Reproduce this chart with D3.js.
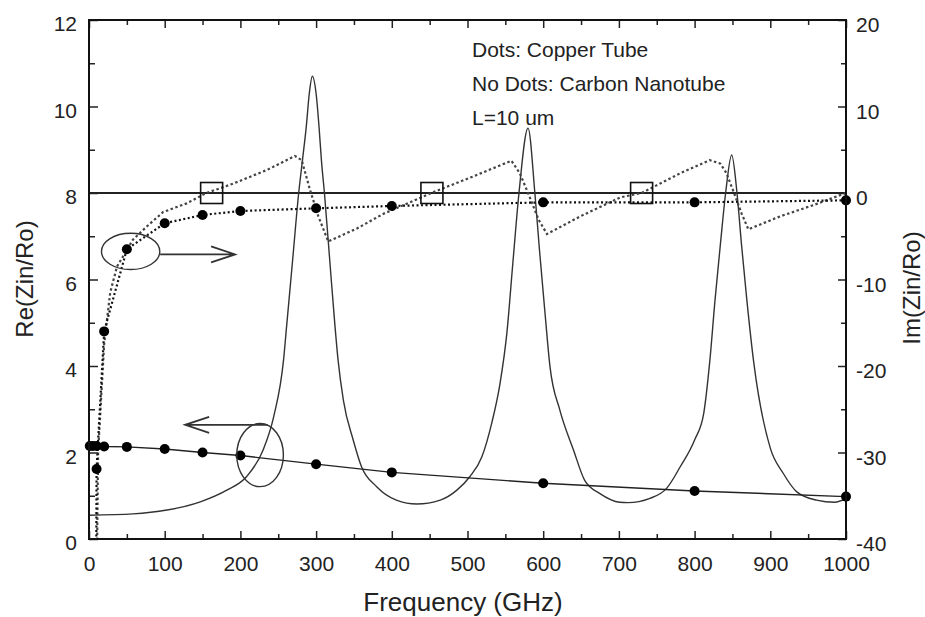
<!DOCTYPE html>
<html>
<head>
<meta charset="utf-8">
<style>
  body { margin: 0; background: #fff; }
  svg { font-family: "Liberation Sans", Arial, sans-serif; }
  .tick text { font-size: 21px; fill: #222; }
  .tick line { stroke: #222; stroke-width: 1.5px; }
  .axis path.domain { display: none; }
</style>
<script src="https://d3js.org/d3.v7.min.js"></script>
</head>
<body>
<svg id="chart" width="925" height="617"></svg>
<script>
// Carbon nanotube, Re(Zin/Ro) (solid, no dots)
const freqCntRe = [0, 58, 103, 147, 182, 208, 230, 244, 257, 261, 269, 277, 282, 287, 291, 295, 300, 304, 307, 311,
  318, 325, 329, 336, 349, 360, 380, 406, 433, 464, 486, 503, 519, 532, 543, 552, 560, 568, 580, 589,
  595, 602, 609, 622, 640, 655, 675, 701, 712, 741, 763, 781, 800, 812, 820, 827, 834, 841, 849, 856,
  862, 869, 878, 900, 917, 935, 961, 985, 1000];
const cntRe = [0.55, 0.58, 0.67, 0.86, 1.13, 1.44, 2.06, 2.83, 4.14, 4.91, 6.45, 8.0, 8.76, 9.53, 10.3, 10.7, 10.3, 9.5, 8.76, 8.0,
  6.45, 4.91, 4.14, 3.21, 2.29, 1.67, 1.21, 0.9, 0.81, 0.9, 1.13, 1.44, 1.9, 2.68, 3.6, 4.76, 6.4, 8.0, 9.5, 8.0,
  6.7, 5.3, 3.98, 2.98, 2.06, 1.35, 1.05, 0.85, 0.84, 0.94, 1.17, 1.67, 2.29, 2.9, 4.1, 5.53, 6.8, 8.0, 8.88, 8.0,
  6.8, 5.53, 4.1, 2.1, 1.52, 1.09, 0.9, 0.85, 0.94];

// Carbon nanotube, Im(Zin/Ro) (dotted, no dots)
const freqCntIm = [6, 12, 20, 28, 37, 58, 76, 98, 129, 155, 191, 235, 272, 281, 292, 303, 316, 354, 389, 452,
  510, 558, 569, 580, 594, 605, 649, 702, 730, 781, 820, 834, 842, 853, 862, 871, 913, 957, 1000];
const cntIm = [-80, -30, -17.5, -11.5, -8.5, -5.4, -3.9, -2.2, -1.2, 0, 1.1, 2.66, 4.28, 3.8, 0.35, -2.7, -5.6, -4.1, -2.4, 0,
  2.0, 3.73, 2.3, 0, -3.1, -4.74, -2.7, -0.5, 0, 2.28, 3.8, 3.4, 2.3, -0.2, -2.35, -4.2, -2.7, -1.4, 0];

// Copper tube, Re (solid with dots) and Im (dotted with dots)
const freqCuRe = [1, 5, 10, 20, 50, 100, 150, 200, 300, 400, 600, 800, 1000];
const cuRe = [2.15, 2.15, 2.15, 2.14, 2.13, 2.08, 2.0, 1.93, 1.73, 1.54, 1.29, 1.11, 0.98];
const freqCuIm = [5, 10, 20, 50, 100, 150, 200, 300, 400, 600, 800, 1000];
const cuIm = [-150, -31.9, -16, -6.5, -3.5, -2.54, -2.08, -1.77, -1.5, -1.08, -1.08, -0.85];

// zero crossings of the nanotube reactance (square markers)
const zeroCross = [162, 453, 730];

const xTicks = d3.range(0, 1001, 100);
const xMinor = d3.range(50, 1000, 100);
const yLeftTicks = d3.range(0, 13, 2);
const yLeftMinor = d3.range(1, 12, 2);
const yRightTicks = d3.range(-40, 21, 10);
const yRightMinor = d3.range(-35, 20, 10);
const legendLines = ["Dots: Copper Tube", "No Dots: Carbon Nanotube", "L=10 um"];

const zip = (xs, ys) => xs.map((f, i) => ({f: f, v: ys[i]}));
const plain = d => String(d);   // "-10" with a hyphen, "1000" without a comma

const pL = 89, pR = 846, pT = 20, pB = 539;
const svg = d3.select("#chart");

const x = d3.scaleLinear().domain([0, 1000]).range([pL, pR]);
const yL = d3.scaleLinear().domain([0, 12]).range([pB, pT]);
const yR = d3.scaleLinear().domain([-40, 20]).range([pB, pT]);

svg.append("defs").append("clipPath").attr("id", "plot")
  .append("rect").attr("x", pL).attr("y", pT)
  .attr("width", pR - pL).attr("height", pB - pT);

// axes
function addAxis(axis, tx, ty) {
  return svg.append("g").attr("class", "axis")
    .attr("transform", `translate(${tx},${ty})`).call(axis);
}
addAxis(d3.axisBottom(x).tickValues(xTicks).tickFormat(plain).tickSize(-8).tickPadding(17), 0, pB);
addAxis(d3.axisBottom(x).tickValues(xMinor).tickSize(-5).tickFormat(""), 0, pB);
addAxis(d3.axisTop(x).tickValues(xTicks).tickSize(-8).tickFormat(""), 0, pT);
addAxis(d3.axisTop(x).tickValues(xMinor).tickSize(-5).tickFormat(""), 0, pT);
addAxis(d3.axisLeft(yL).tickValues(yLeftTicks).tickFormat(plain).tickSize(-9).tickPadding(12), pL, 0)
  .selectAll("text").attr("dy", "0.5em");
addAxis(d3.axisLeft(yL).tickValues(yLeftMinor).tickSize(-6).tickFormat(""), pL, 0);
addAxis(d3.axisRight(yR).tickValues(yRightTicks).tickFormat(plain).tickSize(-8).tickPadding(10), pR, 0)
  .selectAll("text").attr("dy", "0.55em");
addAxis(d3.axisRight(yR).tickValues(yRightMinor).tickSize(-5).tickFormat(""), pR, 0);

const plot = svg.append("g").attr("clip-path", "url(#plot)");

// Im = 0 line
plot.append("line")
  .attr("x1", x(0)).attr("x2", x(1000))
  .attr("y1", yR(0)).attr("y2", yR(0))
  .attr("stroke", "#222").attr("stroke-width", 2);

const lineRe = d3.line().x(d => x(d.f)).y(d => yL(d.v));
const lineIm = d3.line().x(d => x(d.f)).y(d => yR(d.v));

plot.append("path").datum(zip(freqCntRe, cntRe))
  .attr("d", d3.line().x(d => x(d.f)).y(d => yL(d.v)).curve(d3.curveMonotoneX))
  .attr("fill", "none").attr("stroke", "#333").attr("stroke-width", 1.4);

plot.append("path").datum(zip(freqCntIm, cntIm))
  .attr("d", lineIm)
  .attr("fill", "none").attr("stroke", "#444").attr("stroke-width", 2.2)
  .attr("stroke-dasharray", "2.5,2.5");

plot.append("path").datum(zip(freqCuRe, cuRe))
  .attr("d", lineRe)
  .attr("fill", "none").attr("stroke", "#222").attr("stroke-width", 1.4);

plot.append("path").datum(zip(freqCuIm, cuIm))
  .attr("d", lineIm)
  .attr("fill", "none").attr("stroke", "#111").attr("stroke-width", 2.2)
  .attr("stroke-dasharray", "2,2.5");

// dots
svg.append("g").selectAll("circle")
  .data(zip(freqCuRe, cuRe)).join("circle")
  .attr("cx", d => x(d.f)).attr("cy", d => yL(d.v)).attr("r", 5).attr("fill", "#000");
svg.append("g").selectAll("circle")
  .data(zip(freqCuIm, cuIm).filter(d => d.v >= -40)).join("circle")
  .attr("cx", d => x(d.f)).attr("cy", d => yR(d.v)).attr("r", 5).attr("fill", "#000");

// square markers
svg.append("g").selectAll("rect")
  .data(zeroCross).join("rect")
  .attr("x", d => x(d) - 11).attr("y", yR(0) - 10.5)
  .attr("width", 22).attr("height", 21)
  .attr("fill", "none").attr("stroke", "#111").attr("stroke-width", 1.6);

// frame
svg.append("rect").attr("x", pL).attr("y", pT)
  .attr("width", pR - pL).attr("height", pB - pT)
  .attr("fill", "none").attr("stroke", "#111").attr("stroke-width", 2);

// annotations: ellipses with arrows
const ann = svg.append("g").attr("fill", "none").attr("stroke", "#333").attr("stroke-width", 1.4);
ann.append("ellipse").attr("cx", x(55)).attr("cy", yR(-6.75))
  .attr("rx", x(38.5) - x(0)).attr("ry", yR(0) - yR(2.1));
ann.append("path").attr("d", () => {
  const y0 = yR(-7.1), x0 = x(94), x1 = x(193);
  return `M${x0},${y0}H${x1}M${x1 - 24},${y0 - 8}L${x1},${y0}L${x1 - 24},${y0 + 8}`;
}).attr("stroke-width", 1.8);

ann.append("ellipse").attr("cx", x(226)).attr("cy", yL(1.94))
  .attr("rx", x(30.8) - x(0)).attr("ry", yL(0) - yL(0.73));
ann.append("path").attr("d", () => {
  const y0 = yL(2.64), x0 = x(236), x1 = x(127);
  return `M${x0},${y0}H${x1}M${x1 + 24},${y0 - 8}L${x1},${y0}L${x1 + 24},${y0 + 8}`;
}).attr("stroke-width", 1.8);

// legend text
svg.append("g").selectAll("text")
  .data(legendLines).join("text")
  .attr("x", 472).attr("y", (d, i) => 56.5 + i * 34.2)
  .attr("font-size", 21).attr("fill", "#222")
  .text(d => d);

// axis titles
svg.append("text").attr("x", 463).attr("y", 611)
  .attr("text-anchor", "middle").attr("font-size", 26).attr("fill", "#222")
  .text("Frequency (GHz)");
svg.append("text").attr("transform", "translate(33,279) rotate(-90)")
  .attr("text-anchor", "middle").attr("font-size", 24).attr("fill", "#222")
  .text("Re(Zin/Ro)");
svg.append("text").attr("transform", "translate(920,288) rotate(-90)")
  .attr("text-anchor", "middle").attr("font-size", 24).attr("fill", "#222")
  .text("Im(Zin/Ro)");
</script>
</body>
</html>
